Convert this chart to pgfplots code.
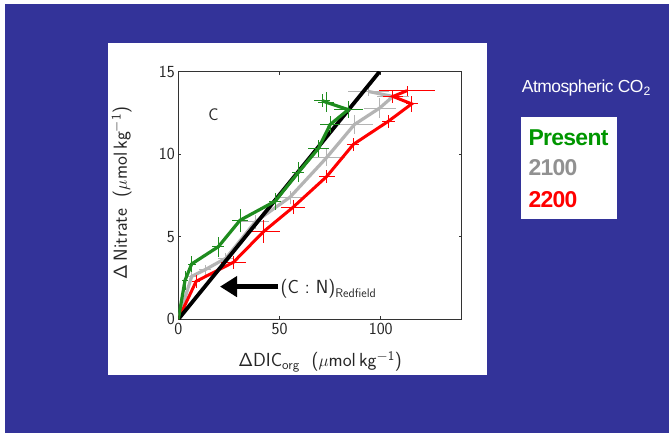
\documentclass[border=0pt]{standalone}
\usepackage{fontspec}
\usepackage{pgfplots}
\pgfplotsset{compat=1.18}
\usetikzlibrary{arrows.meta}
\newfontfamily\arial[LetterSpace=-3]{Liberation Sans}
\definecolor{bgblue}{RGB}{51,51,153}
\definecolor{lgreen}{RGB}{30,140,30}
\definecolor{lgray}{RGB}{180,180,180}
\definecolor{lred}{RGB}{255,0,0}
\definecolor{tgreen}{RGB}{0,150,0}
\definecolor{tgray}{RGB}{145,145,145}
\begin{document}
\begin{tikzpicture}[x=1bp,y=1bp]
\useasboundingbox (0,0) rectangle (669,433);
\fill[white] (0,0) rectangle (669,433);
\fill[bgblue] (4.7,0) rectangle (669,429);
\fill[white] (108,58) rectangle (486.7,390);
\begin{axis}[
  at={(178.3bp,113.7bp)}, anchor=south west,
  scale only axis, width=283.4bp, height=247.6bp,
  xmin=0, xmax=140, ymin=0, ymax=15,
  xtick={0,50,100}, ytick={0,5,10,15},
  tick align=inside, major tick length=3bp,
  tick style={black!80, line width=0.6bp},
  axis line style={black!80, line width=0.6bp},
  ticklabel style={font=\sffamily\fontsize{17}{17}\selectfont, text=black!85},
  /pgf/number format/assume math mode=true,
  xlabel={ΔDIC\textsubscript{org}\ \ ($\mu$mol\,kg\textsuperscript{$-$1})},
  ylabel={Δ\,Nitrate\ \ ($\mu$mol\,kg\textsuperscript{$-$1})},
  label style={font=\sffamily\fontsize{19}{19}\selectfont, text=black!85},
  xlabel style={at={(axis description cs:0.5,-0.1725)}, anchor=center},
  ylabel style={at={(axis description cs:-0.2,0.51)}, anchor=center},
  error bars/error mark=none,
  clip=true,
]
% Gray (2100)
\addplot[color=lgray, line width=3.2bp,
  error bars/.cd, x dir=both, x explicit, y dir=both, y explicit,
  error bar style={line width=0.9bp, color=lgray}]
coordinates {
(0,0) +- (0,0)
(6.6,2.6) +- (2,0.3)
(13.2,3.0) +- (3,0.3)
(23.5,3.7) +- (4,0.3)
(38,5.9) +- (7,0.4)
(55.2,7.4) +- (7,0.4)
(73.3,9.8) +- (9,0.5)
(87,11.8) +- (9,0.6)
(99.5,12.8) +- (8,0.6)
(106,13.5) +- (8,0.4)
(94,13.8) +- (10,0.3)
};
% Red (2200)
\addplot[color=lred, line width=3bp,
  error bars/.cd, x dir=both, x explicit, y dir=both, y explicit,
  error bar style={line width=0.9bp, color=lred}]
coordinates {
(0,0) +- (0,0)
(8.8,2.3) +- (2,0.4)
(27.2,3.45) +- (6,0.4)
(42,5.3) +- (8,0.7)
(56.8,6.8) +- (6,0.4)
(73.3,8.65) +- (4,0.4)
(86.5,10.6) +- (3,0.4)
(103.8,12.0) +- (3,0.4)
(115.3,13.05) +- (3,0.5)
(106,13.5) +- (5,0.4)
(113,13.85) +- (14,0.3)
};
% Redfield line
\addplot[color=black, line width=3.8bp] coordinates {(0,0) (99.4,15)};
% Green (present)
\addplot[color=lgreen, line width=3.2bp,
  error bars/.cd, x dir=both, x explicit, y dir=both, y explicit,
  error bar style={line width=0.9bp, color=lgreen}]
coordinates {
(0,0) +- (0,0)
(3.3,2.35) +- (1.5,0.6)
(6.6,3.35) +- (2,0.5)
(19.8,4.4) +- (3,0.6)
(30.5,6.0) +- (4,0.7)
(47.8,7.15) +- (3,0.5)
(59.3,8.9) +- (3,0.6)
(69.2,10.35) +- (5,0.5)
(75,11.8) +- (5,0.5)
(84,12.7) +- (7,0.5)
(73,13.15) +- (4,0.6)
(71,13.25) +- (4,0.4)
};
\node[font=\sffamily\fontsize{17}{17}\selectfont, text=black!85] at (axis cs:17.4,12.4) {C};
\draw[line width=5bp, -{Triangle[length=17bp,width=20bp]}] (axis cs:49.4,1.98) -- (axis cs:20.6,1.98);
\node[anchor=west, inner sep=0pt, font=\sffamily\fontsize{19}{19}\selectfont, text=black!85] at (axis cs:50.5,1.85) {(C : N)\raisebox{-4bp}{\fontsize{12.5}{12.5}\selectfont Redfield}};
\end{axis}
\node[anchor=base west, inner sep=0pt, text=white, font=\arial\fontsize{17.5}{17.5}\selectfont] at (521.7,340.3) {Atmospheric CO\textsubscript{2}};
\fill[white] (521,214) rectangle (616.7,316.3);
\node[anchor=base west, inner sep=0pt, text=tgreen, font=\arial\bfseries\fontsize{23}{23}\selectfont] at (528.3,287) {Present};
\node[anchor=base west, inner sep=0pt, text=tgray, font=\arial\bfseries\fontsize{23}{23}\selectfont] at (528.3,257) {2100};
\node[anchor=base west, inner sep=0pt, text=lred, font=\arial\bfseries\fontsize{23}{23}\selectfont] at (528.3,225.7) {2200};
\end{tikzpicture}
\end{document}
